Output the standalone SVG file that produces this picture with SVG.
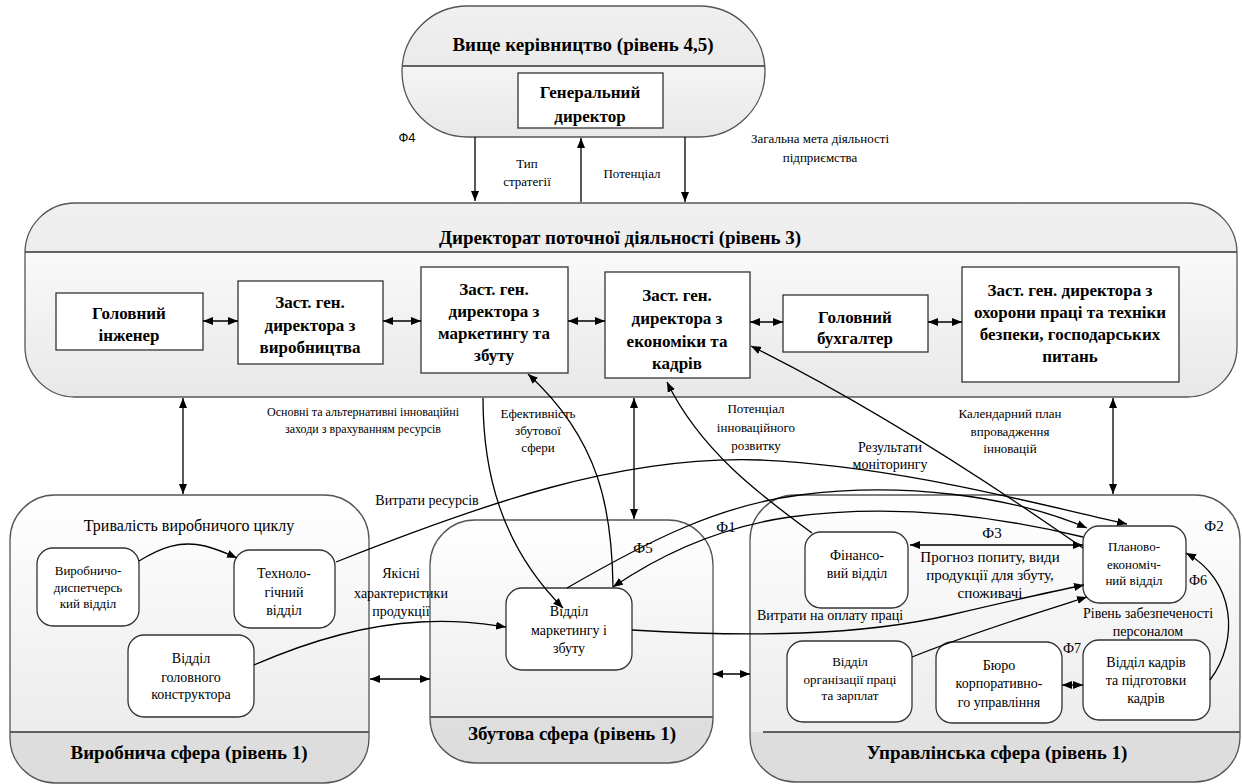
<svg xmlns="http://www.w3.org/2000/svg" width="1242" height="784" viewBox="0 0 1242 784" font-family="Liberation Serif, DejaVu Serif, serif">
<defs>
  <linearGradient id="gBody" x1="0" y1="0" x2="0" y2="1">
    <stop offset="0" stop-color="#ffffff"/>
    <stop offset="1" stop-color="#e8e8e8"/>
  </linearGradient>
  <linearGradient id="gHead" x1="0" y1="0" x2="0" y2="1">
    <stop offset="0" stop-color="#f0f0f0"/>
    <stop offset="1" stop-color="#e4e4e4"/>
  </linearGradient>
  <linearGradient id="gFoot" x1="0" y1="0" x2="0" y2="1">
    <stop offset="0" stop-color="#e6e6e6"/>
    <stop offset="1" stop-color="#dcdcdc"/>
  </linearGradient>
  <clipPath id="cTop"><rect x="0" y="0" width="1242" height="66"/></clipPath>
  <clipPath id="cDir"><rect x="0" y="0" width="1242" height="252"/></clipPath>
  <clipPath id="cBot1"><rect x="0" y="732" width="1242" height="60"/></clipPath>
  <clipPath id="cBot2"><rect x="0" y="717" width="1242" height="60"/></clipPath>
  <marker id="ah" viewBox="0 0 10 8" refX="10" refY="4" markerWidth="10" markerHeight="8" markerUnits="userSpaceOnUse" orient="auto-start-reverse">
    <path d="M0,0 L10,4 L0,8 z" fill="#000"/>
  </marker>
</defs>
<style>
  .cont{stroke:#555;stroke-width:1.3;fill:none}
  .div{stroke:#333;stroke-width:1.3}
  .box{fill:#fff;stroke:#333;stroke-width:1.3}
  text{fill:#000;text-anchor:middle}
  .ti{font-size:19px;font-weight:bold}
  .bx{font-size:17px;font-weight:bold}
  .l12{font-size:12px}
  .l13{font-size:13px}
  .l14{font-size:14px}
  .l15{font-size:15px}
  .l16{font-size:16px}
  .c{fill:none;stroke:#000;stroke-width:1.3}
  .a{marker-end:url(#ah)}
  .d{marker-start:url(#ah);marker-end:url(#ah)}
</style>
<rect width="1242" height="784" fill="#fff"/>

<g id="top-management">
  <rect x="402" y="6" width="363" height="131" rx="65.5" fill="url(#gBody)"/>
  <rect x="402" y="6" width="363" height="131" rx="65.5" fill="url(#gHead)" clip-path="url(#cTop)"/>
  <line class="div" x1="402" y1="66" x2="765" y2="66"/>
  <rect class="cont" x="402" y="6" width="363" height="131" rx="65.5"/>
  <text class="ti" x="583" y="51">Вище керівництво (рівень 4,5)</text>
</g>
<g id="general-director">
  <rect class="box" x="518" y="73" width="145" height="55"/>
  <text class="bx" x="590" y="98">Генеральний</text>
  <text class="bx" x="590" y="122">директор</text>
</g>

<g id="directorate">
  <rect x="25" y="203" width="1212" height="194" rx="50" fill="url(#gBody)"/>
  <rect x="25" y="203" width="1212" height="194" rx="50" fill="url(#gHead)" clip-path="url(#cDir)"/>
  <line class="div" x1="25" y1="252" x2="1237" y2="252"/>
  <rect class="cont" x="25" y="203" width="1212" height="194" rx="50"/>
  <text class="ti" x="620" y="244">Директорат поточної діяльності (рівень 3)</text>
</g>
<g id="chief-engineer">
  <rect class="box" x="56" y="293" width="147" height="57"/>
  <text class="bx" x="129" y="319">Головний</text>
  <text class="bx" x="129" y="341">інженер</text>
</g>
<g id="deputy-production">
  <rect class="box" x="238" y="281" width="145" height="83"/>
  <text class="bx" x="310" y="308">Заст. ген.</text>
  <text class="bx" x="310" y="331">директора з</text>
  <text class="bx" x="310" y="353">виробництва</text>
</g>
<g id="deputy-marketing">
  <rect class="box" x="421" y="267" width="147" height="106"/>
  <text class="bx" x="494" y="295">Заст. ген.</text>
  <text class="bx" x="494" y="317">директора з</text>
  <text class="bx" x="494" y="339">маркетингу та</text>
  <text class="bx" x="494" y="361">збуту</text>
</g>
<g id="deputy-economics">
  <rect class="box" x="605" y="272" width="145" height="106"/>
  <text class="bx" x="677" y="301">Заст. ген.</text>
  <text class="bx" x="677" y="324">директора з</text>
  <text class="bx" x="677" y="347">економіки та</text>
  <text class="bx" x="677" y="369">кадрів</text>
</g>
<g id="chief-accountant">
  <rect class="box" x="783" y="295" width="145" height="57"/>
  <text class="bx" x="855" y="323">Головний</text>
  <text class="bx" x="855" y="344">бухгалтер</text>
</g>
<g id="deputy-safety">
  <rect class="box" x="962" y="267" width="217" height="115"/>
  <text class="bx" x="1070" y="296">Заст. ген. директора з</text>
  <text class="bx" x="1070" y="318">охорони праці та техніки</text>
  <text class="bx" x="1070" y="340">безпеки, господарських</text>
  <text class="bx" x="1070" y="362">питань</text>
</g>

<g id="production-sphere">
  <rect x="10" y="495" width="359" height="288" rx="45" fill="url(#gBody)"/>
  <rect x="10" y="495" width="359" height="288" rx="45" fill="url(#gFoot)" clip-path="url(#cBot1)"/>
  <line class="div" x1="10" y1="732" x2="369" y2="732"/>
  <rect class="cont" x="10" y="495" width="359" height="288" rx="45"/>
  <text class="l16" x="189" y="531">Тривалість виробничого циклу</text>
  <text class="ti" x="189" y="759">Виробнича сфера (рівень 1)</text>
</g>
<g id="dispatch-dept">
  <rect class="box" x="37" y="548" width="102" height="78" rx="16"/>
  <text class="l13" x="88" y="575">Виробничо-</text>
  <text class="l13" x="88" y="592">диспетчерсь</text>
  <text class="l13" x="88" y="608">кий відділ</text>
</g>
<g id="tech-dept">
  <rect class="box" x="234" y="550" width="101" height="78" rx="16"/>
  <text class="l14" x="284" y="578">Техноло-</text>
  <text class="l14" x="284" y="597">гічний</text>
  <text class="l14" x="284" y="615">відділ</text>
</g>
<g id="designer-dept">
  <rect class="box" x="128" y="635" width="126" height="82" rx="16"/>
  <text class="l14" x="191" y="663">Відділ</text>
  <text class="l14" x="191" y="682">головного</text>
  <text class="l14" x="191" y="699">конструктора</text>
</g>

<g id="sales-sphere">
  <rect x="430" y="520" width="283" height="243" rx="45" fill="url(#gBody)"/>
  <rect x="430" y="520" width="283" height="243" rx="45" fill="url(#gFoot)" clip-path="url(#cBot2)"/>
  <line class="div" x1="430" y1="717" x2="713" y2="717"/>
  <rect class="cont" x="430" y="520" width="283" height="243" rx="45"/>
  <text class="ti" x="572" y="740">Збутова сфера (рівень 1)</text>
</g>
<g id="marketing-dept">
  <rect class="box" x="506" y="588" width="126" height="82" rx="16"/>
  <text class="l14" x="569" y="616">Відділ</text>
  <text class="l14" x="569" y="635">маркетингу і</text>
  <text class="l14" x="569" y="653">збуту</text>
</g>

<g id="management-sphere">
  <rect x="750" y="495" width="490" height="287" rx="45" fill="url(#gBody)"/>
  <rect x="750" y="495" width="490" height="287" rx="45" fill="url(#gFoot)" clip-path="url(#cBot1)"/>
  <line class="div" x1="763" y1="732" x2="1240" y2="732"/>
  <rect class="cont" x="750" y="495" width="490" height="287" rx="45"/>
  <text class="ti" x="997" y="759">Управлінська сфера (рівень 1)</text>
</g>
<g id="finance-dept">
  <rect class="box" x="805" y="532" width="103" height="76" rx="16"/>
  <text class="l14" x="857" y="560">Фінансо-</text>
  <text class="l14" x="857" y="578">вий відділ</text>
</g>
<g id="planning-dept">
  <rect class="box" x="1083" y="526" width="103" height="77" rx="16"/>
  <text class="l13" x="1134" y="551">Планово-</text>
  <text class="l13" x="1134" y="569">економіч-</text>
  <text class="l13" x="1134" y="585">ний відділ</text>
</g>
<g id="labor-dept">
  <rect class="box" x="787" y="641" width="125" height="81" rx="16"/>
  <text class="l13" x="850" y="666">Відділ</text>
  <text class="l13" x="850" y="684">організації праці</text>
  <text class="l13" x="850" y="700">та зарплат</text>
</g>
<g id="corporate-bureau">
  <rect class="box" x="936" y="642" width="126" height="81" rx="16"/>
  <text class="l14" x="999" y="670">Бюро</text>
  <text class="l14" x="999" y="688">корпоративно-</text>
  <text class="l14" x="999" y="707">го управління</text>
</g>
<g id="hr-dept">
  <rect class="box" x="1083" y="640" width="127" height="80" rx="16"/>
  <text class="l14" x="1146" y="667">Відділ кадрів</text>
  <text class="l14" x="1146" y="685">та підготовки</text>
  <text class="l14" x="1146" y="703">кадрів</text>
</g>

<g id="connectors">
  <path class="c a" d="M475,137 V201"/>
  <path class="c a" d="M581,202 V138"/>
  <path class="c a" d="M685,137 V202"/>
  <path class="c d" d="M203,321 H238"/>
  <path class="c d" d="M383,321 H421"/>
  <path class="c d" d="M568,321 H605"/>
  <path class="c d" d="M750,322 H783"/>
  <path class="c d" d="M928,322 H962"/>
  <path class="c d" d="M183,398 V494"/>
  <path class="c d" d="M634,398 V519"/>
  <path class="c d" d="M1113,398 V494"/>
  <path class="c d" d="M370,679 H430"/>
  <path class="c d" d="M713,674 H750"/>
  <path class="c a" d="M139,561 C160,548 180,540 205,546 C220,550 228,554 237,558"/>
  <path class="c a" d="M254,665 C300,645 360,625 420,622 C460,620 485,624 506,627"/>
  <path class="c a" d="M336,562 C480,505 620,455 760,460 C900,466 1040,505 1127,524"/>
  <path class="c a" d="M567,588 C650,540 720,505 800,495 C900,482 1010,495 1087,528"/>
  <path class="c a" d="M1083,537 C980,512 880,505 790,517 C720,527 660,555 613,587"/>
  <path class="c a" d="M613,587 C612,510 600,440 528,374"/>
  <path class="c a" d="M483,398 C483,470 500,545 563,608"/>
  <path class="c a" d="M812,533 C760,495 700,450 667,382"/>
  <path class="c a" d="M1083,548 C1000,490 880,410 751,346"/>
  <path class="c a" d="M632,630 C750,637 860,636 950,615 C1010,601 1050,592 1084,585"/>
  <path class="c a" d="M912,657 C980,630 1040,612 1087,597"/>
  <path class="c a" d="M1210,680 C1240,640 1235,580 1186,553"/>
  <path class="c d" d="M1062,685 H1083"/>
  <path class="c d" d="M910,545 H1083"/>
</g>

<g id="labels">
  <text font-family="Liberation Sans, DejaVu Sans, sans-serif" font-size="13" x="407" y="142">Ф4</text>
  <text class="l13" x="527" y="168">Тип</text>
  <text class="l13" x="527" y="186">стратегії</text>
  <text class="l13" x="632" y="178">Потенціал</text>
  <text class="l13" x="820" y="143">Загальна мета діяльності</text>
  <text class="l13" x="820" y="162">підприємства</text>
  <text class="l12" x="363" y="416">Основні та альтернативні інноваційні</text>
  <text class="l12" x="363" y="433">заходи з врахуванням ресурсів</text>
  <text class="l13" x="538" y="418">Ефективність</text>
  <text class="l13" x="538" y="435">збутової</text>
  <text class="l13" x="538" y="452">сфери</text>
  <text class="l13" x="756" y="413">Потенціал</text>
  <text class="l13" x="756" y="432">інноваційного</text>
  <text class="l13" x="756" y="450">розвитку</text>
  <text class="l13" x="1010" y="418">Календарний план</text>
  <text class="l13" x="1010" y="436">впровадження</text>
  <text class="l13" x="1010" y="453">інновацій</text>
  <text class="l14" x="890" y="452">Результати</text>
  <text class="l14" x="890" y="469">моніторингу</text>
  <text class="l14" x="427" y="505">Витрати ресурсів</text>
  <text class="l14" x="401" y="578">Якісні</text>
  <text class="l14" x="401" y="598">характеристики</text>
  <text class="l14" x="401" y="616">продукції</text>
  <text class="l15" x="643" y="553">Ф5</text>
  <text class="l15" x="726" y="532">Ф1</text>
  <text class="l15" x="992" y="538">Ф3</text>
  <text class="l15" x="1214" y="531">Ф2</text>
  <text class="l14" x="1198" y="585">Ф6</text>
  <text class="l14" x="1072" y="653">Ф7</text>
  <text class="l15" x="990" y="562">Прогноз попиту, види</text>
  <text class="l15" x="990" y="580">продукції для збуту,</text>
  <text class="l15" x="990" y="598">споживачі</text>
  <text class="l14" x="1148" y="618">Рівень забезпеченості</text>
  <text class="l14" x="1148" y="636">персоналом</text>
  <text class="l14" x="830" y="620">Витрати на оплату праці</text>
</g>
</svg>
